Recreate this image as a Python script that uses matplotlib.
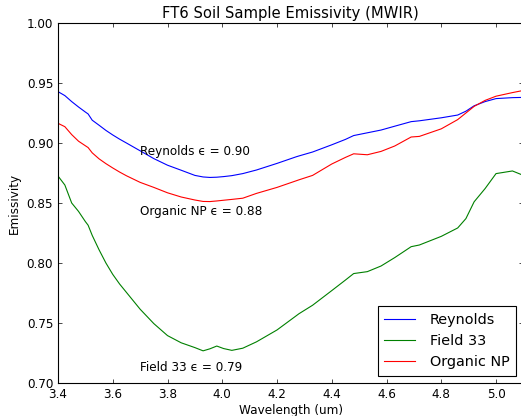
import numpy as np
import matplotlib
matplotlib.use("Agg")
import matplotlib.pyplot as plt

# wavelength grid (um) shared by the three samples
wavelength = [3.40, 3.425, 3.45, 3.475, 3.50, 3.51, 3.525, 3.55, 3.575, 3.60,
              3.625, 3.65, 3.70, 3.75, 3.80, 3.85, 3.90, 3.93, 3.955, 3.98,
              4.005, 4.035, 4.075, 4.125, 4.20, 4.27, 4.28, 4.33, 4.40, 4.45,
              4.48, 4.53, 4.58, 4.63, 4.69, 4.72, 4.80, 4.86, 4.89, 4.92,
              4.96, 5.00, 5.06, 5.10]

reynolds = [0.9428, 0.9395, 0.9345, 0.9300, 0.9258, 0.9242, 0.9190, 0.9148,
            0.9105, 0.9067, 0.9032, 0.9000, 0.8935, 0.8870, 0.8815, 0.8773,
            0.8730, 0.8717, 0.8713, 0.8715, 0.8720, 0.8728, 0.8745, 0.8775,
            0.8830, 0.8885, 0.8892, 0.8925, 0.8985, 0.9030, 0.9062, 0.9085,
            0.9108, 0.9140, 0.9178, 0.9185, 0.9210, 0.9233, 0.9265, 0.9310,
            0.9345, 0.9370, 0.9378, 0.9380]

field33 = [0.8725, 0.8650, 0.8500, 0.8430, 0.8345, 0.8315, 0.8230, 0.8110,
           0.8000, 0.7905, 0.7825, 0.7755, 0.7615, 0.7495, 0.7395, 0.7335,
           0.7295, 0.7268, 0.7285, 0.7308, 0.7287, 0.7272, 0.7290, 0.7343,
           0.7442, 0.7560, 0.7577, 0.7648, 0.7770, 0.7858, 0.7912, 0.7928,
           0.7975, 0.8045, 0.8136, 0.8150, 0.8222, 0.8292, 0.8370, 0.8510,
           0.8620, 0.8745, 0.8767, 0.8730]

organic_np = [0.9164, 0.9136, 0.9070, 0.9015, 0.8977, 0.8962, 0.8918, 0.8868,
              0.8828, 0.8792, 0.8758, 0.8727, 0.8672, 0.8630, 0.8585, 0.8550,
              0.8525, 0.8513, 0.8512, 0.8517, 0.8523, 0.8530, 0.8540, 0.8580,
              0.8630, 0.8685, 0.8693, 0.8730, 0.8825, 0.8880, 0.8910, 0.8902,
              0.8930, 0.8975, 0.9050, 0.9055, 0.9118, 0.9195, 0.9250, 0.9305,
              0.9355, 0.9390, 0.9420, 0.9438]

# mean emissivity labels
labels = ["Reynolds", "Field 33", "Organic NP"]
mean_eps = [0.90, 0.79, 0.88]
label_y = [0.89, 0.71, 0.84]

xticks = [3.4, 3.6, 3.8, 4.0, 4.2, 4.4, 4.6, 4.8, 5.0]
yticks = [0.70, 0.75, 0.80, 0.85, 0.90, 0.95, 1.00]

fig = plt.figure(figsize=(5.21, 4.16), dpi=100)
ax = fig.add_axes([58/521, 33/416, 465.4/521, 360/416])

ax.plot(wavelength, reynolds, color="#0000ff", lw=0.8, label=labels[0])
ax.plot(wavelength, field33, color="#008000", lw=0.8, label=labels[1])
ax.plot(wavelength, organic_np, color="#ff0000", lw=0.8, label=labels[2])

for name, eps, yy in zip(labels, mean_eps, label_y):
    ax.text(3.7, yy, name + " \u03f5 = %.2f" % eps, fontsize=8.64)

ax.set_xlim(3.4, 5.1)
ax.set_ylim(0.70, 1.00)
ax.set_xticks(xticks)
ax.set_yticks(yticks)
ax.tick_params(direction="in", top=True, right=True, length=2.9, width=0.5,
               pad=3.5, labelsize=8.64)
for s in ax.spines.values():
    s.set_linewidth(0.8)

ax.set_title("FT6 Soil Sample Emissivity (MWIR)", fontsize=10.6, pad=3.5)
ax.set_xlabel("Wavelength (um)", fontsize=8.64, labelpad=2)
ax.set_ylabel("Emissivity", fontsize=8.64, labelpad=4)

leg = ax.legend(loc="lower right", fontsize=10.4, fancybox=False,
                framealpha=1, edgecolor="black", borderpad=0.45,
                labelspacing=0.5, handlelength=2.1, handletextpad=1.05,
                borderaxespad=0.5)
leg.get_frame().set_linewidth(0.8)

fig.savefig("out.png", dpi=100)
